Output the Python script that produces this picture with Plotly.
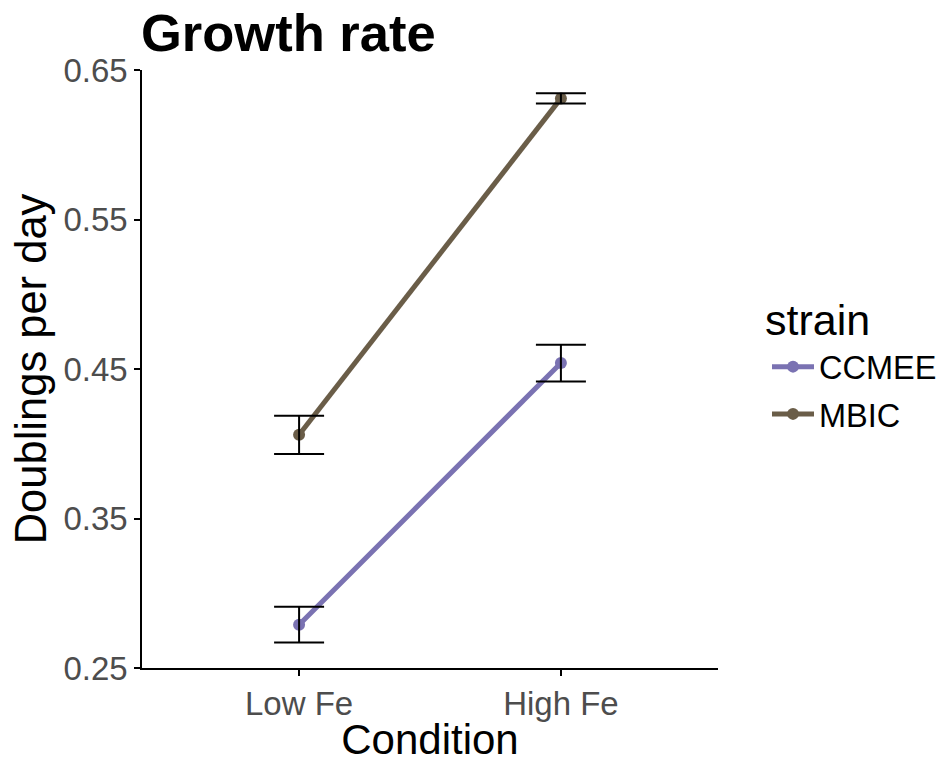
import plotly.graph_objects as go

conditions = ["Low Fe", "High Fe"]
strains = ["CCMEE", "MBIC"]
ccmee_mean = [0.279, 0.454]
ccmee_err = [0.012, 0.0123]
mbic_mean = [0.406, 0.631]
mbic_err = [0.0128, 0.0034]
colors = {"CCMEE": "#7A72B2", "MBIC": "#6A5D48"}

font_family = "Liberation Sans, Arial, sans-serif"
W, H = 941, 763
L, R, T, B = 142, 223, 70, 95
plot_w = W - L - R
plot_h = H - T - B

fig = go.Figure()
series = {"CCMEE": (ccmee_mean, ccmee_err), "MBIC": (mbic_mean, mbic_err)}
for s in strains:
    m, e = series[s]
    fig.add_trace(go.Scatter(
        x=conditions, y=m, mode="lines+markers", name=s, legendgroup=s,
        line=dict(color=colors[s], width=5),
        marker=dict(color=colors[s], size=12),
    ))
for s in strains:
    m, e = series[s]
    fig.add_trace(go.Scatter(
        x=conditions, y=m, mode="markers", showlegend=False,
        marker=dict(size=0.1, color="rgba(0,0,0,0)"),
        error_y=dict(type="data", array=e, visible=True, color="black", thickness=2, width=25),
        hoverinfo="skip",
    ))

def py(pix):
    return (H - B - pix) / plot_h

def px(pix):
    return (pix - L) / plot_w

fig.add_annotation(
    text="strain", xref="paper", yref="paper",
    x=px(763), y=py(320), xanchor="left", yanchor="middle",
    showarrow=False, font=dict(size=43, color="black", family=font_family),
)

fig.update_layout(
    width=W, height=H,
    margin=dict(l=L, r=R, t=T, b=B, autoexpand=False),
    plot_bgcolor="white", paper_bgcolor="white",
    font=dict(family=font_family, color="black"),
    title=dict(text="<b>Growth rate</b>", x=141/W, xanchor="left", xref="container",
               y=1 - 33/H, yanchor="middle", yref="container",
               font=dict(size=52.5, color="black", family=font_family)),
    legend=dict(
        font=dict(size=32.5, color="black"),
        x=px(767), xanchor="left", y=py(339), yanchor="top",
        bgcolor="rgba(0,0,0,0)", itemwidth=42,
        tracegroupgap=2,
    ),
    xaxis=dict(
        type="category", range=[-0.6, 1.6], automargin=False,
        showline=True, linecolor="black", linewidth=1.5,
        ticks="outside", ticklen=6, tickcolor="black", tickwidth=1.5,
        tickfont=dict(size=33, color="#4D4D4D"),
        showgrid=False, zeroline=False,
        title=dict(text="Condition", font=dict(size=42, color="black"), standoff=4),
    ),
    yaxis=dict(
        range=[0.25, 0.65], automargin=False,
        tickvals=[0.25, 0.35, 0.45, 0.55, 0.65],
        ticktext=["0.25", "0.35", "0.45", "0.55", "0.65"],
        showline=True, linecolor="black", linewidth=1.5,
        ticks="outside", ticklen=6, tickcolor="black", tickwidth=1.5,
        tickfont=dict(size=33, color="#4D4D4D"),
        showgrid=False, zeroline=False,
        title=dict(text="Doublings per day", font=dict(size=43.5, color="black"), standoff=3),
    ),
)

fig.write_html("out.html", config={"displayModeBar": False},
               post_script="document.body.style.margin='0';document.body.style.overflow='hidden';")
